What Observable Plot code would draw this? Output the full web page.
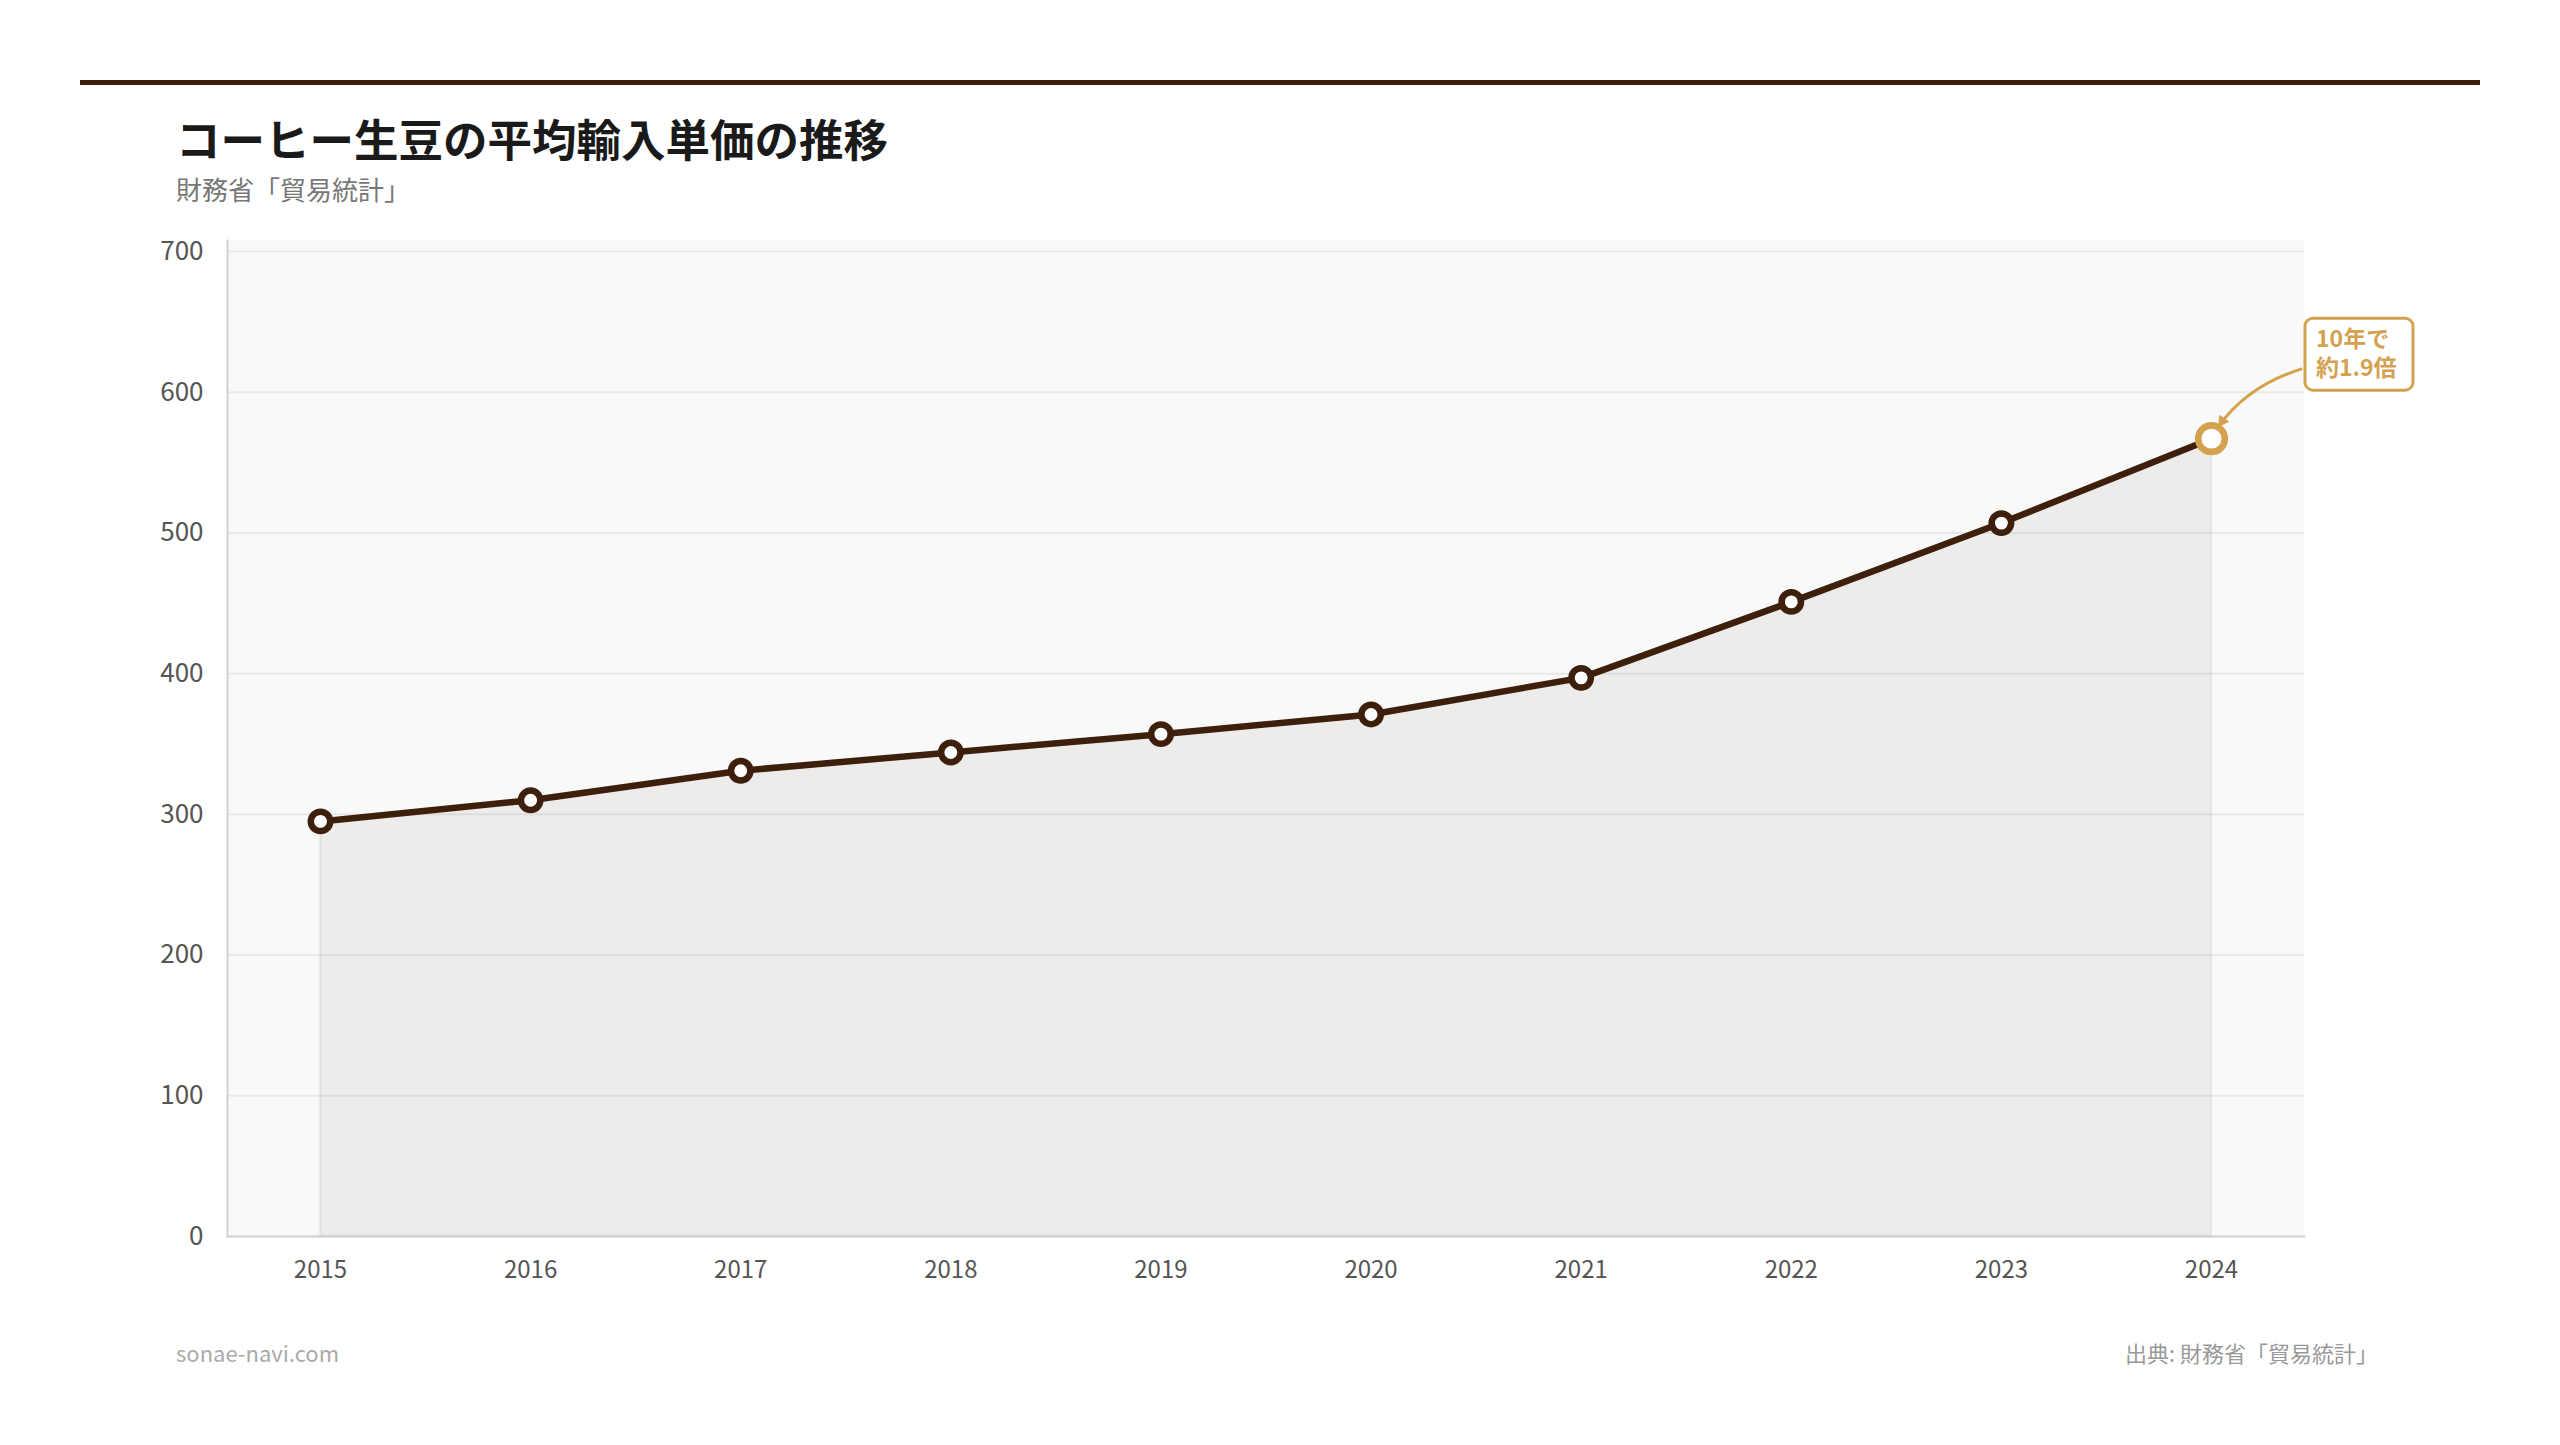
<!DOCTYPE html>
<html lang="ja">
<head>
<meta charset="utf-8">
<script src="https://cdn.jsdelivr.net/npm/d3@7"></script>
<script src="https://cdn.jsdelivr.net/npm/@observablehq/plot@0.6"></script>
<style>
  html, body { margin: 0; padding: 0; background: #ffffff; }
  body { width: 2560px; height: 1445px; position: relative; overflow: hidden;
         font-family: "Noto Sans CJK JP", "Noto Sans", sans-serif; }
  #rule { position: absolute; left: 80px; top: 80px; width: 2400px; height: 5px; background: #3d1f0c; }
  #title { position: absolute; left: 176px; top: 116px; margin: 0; font-size: 44.5px; line-height: 44px;
           font-weight: 700; color: #1a1a1a; white-space: nowrap; }
  #subtitle { position: absolute; left: 176px; top: 176px; margin: 0; font-size: 26px; line-height: 26px;
              color: #777; white-space: nowrap; }
  #chart { position: absolute; left: 176px; top: 220px; }
  #site { position: absolute; left: 176px; top: 1341px; font-size: 22px; line-height: 22px; color: #aaa; }
  #source { position: absolute; right: 182px; top: 1341px; font-size: 22px; line-height: 22px; color: #999; white-space: nowrap; }
</style>
</head>
<body>
<div id="rule"></div>
<h1 id="title">コーヒー生豆の平均輸入単価の推移</h1>
<p id="subtitle">財務省「貿易統計」</p>
<div id="chart"></div>
<div id="site">sonae-navi.com</div>
<div id="source">出典: 財務省「貿易統計」</div>
<script>
// ---- data ----
const years = [2015, 2016, 2017, 2018, 2019, 2020, 2021, 2022, 2023, 2024];
const prices = [295, 310, 331, 344, 357, 371, 397, 451, 507, 567];
const yTicks = [0, 100, 200, 300, 400, 500, 600, 700];
const annotationLines = ["10年で", "約1.9倍"];

const data = years.map((year, i) => ({year, value: prices[i]}));
const last = data[data.length - 1];

const BROWN = "#3d1f0c";
const GOLD = "#d4a24f";

// annotation drawn through the plot's own scales, anchored at the last point
function annotation(index, scales, values, dimensions) {
  const px = scales.x(last.year), py = scales.y(last.value);
  const g = d3.create("svg:g");
  // curved arrow
  const S = [px + 90, py - 69], C = [px + 36, py - 52], E = [px + 7, py - 11];
  g.append("path")
    .attr("d", `M${S[0]},${S[1]}Q${C[0]},${C[1]} ${E[0]},${E[1]}`)
    .attr("fill", "none").attr("stroke", GOLD).attr("stroke-width", 3)
    .attr("stroke-linecap", "round");
  const ang = Math.atan2(E[1] - C[1], E[0] - C[0]);
  const L = 11, W = 6;
  const bx = E[0] - L * Math.cos(ang), by = E[1] - L * Math.sin(ang);
  const nx = -Math.sin(ang) * W, ny = Math.cos(ang) * W;
  g.append("path")
    .attr("d", `M${E[0]},${E[1]}L${bx + nx},${by + ny}L${bx - nx},${by - ny}Z`)
    .attr("fill", GOLD);
  // box
  g.append("rect")
    .attr("x", px + 94).attr("y", py - 120)
    .attr("width", 108).attr("height", 72)
    .attr("rx", 8).attr("ry", 8)
    .attr("fill", "#ffffff").attr("stroke", GOLD).attr("stroke-width", 3);
  annotationLines.forEach((t, i) => {
    g.append("text")
      .attr("x", px + 105).attr("y", py - 99 + i * 29)
      .attr("dy", "0.36em")
      .attr("text-anchor", "start")
      .attr("fill", GOLD).attr("font-size", 23).attr("font-weight", 700)
      .attr("font-family", "'Noto Sans CJK JP', sans-serif")
      .text(t);
  });
  return g.node();
}

const chart = Plot.plot({
  width: 2330,
  height: 1080,
  marginLeft: 51,
  marginRight: 202,
  marginTop: 20,
  marginBottom: 64,
  style: {fontFamily: "'Noto Sans CJK JP', sans-serif", color: "#555", background: "transparent", overflow: "visible"},
  x: {type: "linear", domain: [years[0], years[years.length - 1]], insetLeft: 93, insetRight: 93, label: null},
  y: {domain: [0, 700], insetTop: 11, label: null},
  marks: [
    Plot.frame({fill: "#f9f9f9", stroke: "none"}),
    Plot.areaY(data, {x: "year", y: "value", fill: BROWN, fillOpacity: 0.06,
                      stroke: BROWN, strokeOpacity: 0.05, strokeWidth: 3}),
    Plot.gridY(yTicks, {stroke: "#000", strokeOpacity: 0.065, strokeWidth: 2}),
    Plot.frame({anchor: "left", stroke: "#d2d2d2", strokeWidth: 2, strokeOpacity: 1}),
    Plot.frame({anchor: "bottom", stroke: "#d2d2d2", strokeWidth: 2, strokeOpacity: 1}),
    Plot.axisY({ticks: yTicks, tickSize: 0, tickPadding: 24, fontSize: 26, tickFormat: d => String(d), label: null}),
    Plot.axisX({ticks: years, tickSize: 0, tickPadding: 24, fontSize: 24, tickFormat: d => String(d), label: null}),
    Plot.line(data, {x: "year", y: "value", stroke: BROWN, strokeWidth: 6.5, strokeLinejoin: "round"}),
    Plot.dot(data.slice(0, -1), {x: "year", y: "value", r: 9.7, fill: "#ffffff", stroke: BROWN, strokeWidth: 6.5}),
    Plot.dot([last], {x: "year", y: "value", r: 13.3, fill: "#ffffff", stroke: GOLD, strokeWidth: 6.7}),
    annotation
  ]
});
document.getElementById("chart").appendChild(chart);
</script>
</body>
</html>
